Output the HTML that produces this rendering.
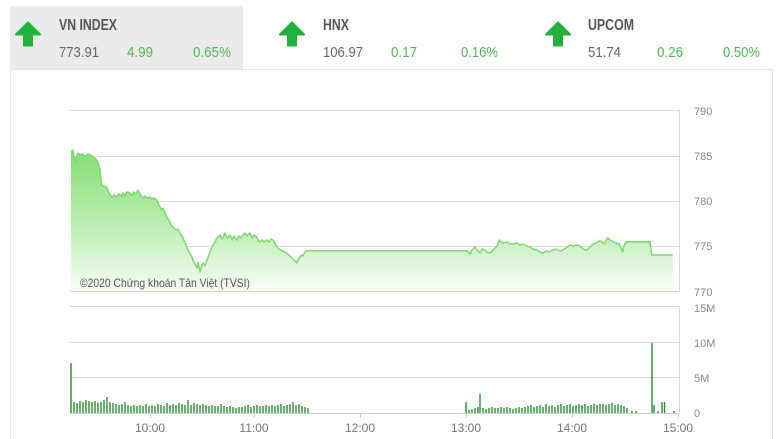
<!DOCTYPE html>
<html><head><meta charset="utf-8"><style>
html,body{margin:0;padding:0;background:#fff;}
svg{display:block;}
text{font-family:"Liberation Sans Narrow","Liberation Sans",sans-serif;}
</style></head><body>
<svg width="780" height="439" viewBox="0 0 780 439" xmlns="http://www.w3.org/2000/svg">
<defs>
<linearGradient id="g" gradientUnits="userSpaceOnUse" x1="0" y1="150" x2="0" y2="292">
<stop offset="0" stop-color="#84de73"/>
<stop offset="0.55" stop-color="#bdefb3"/>
<stop offset="1" stop-color="#f7fdf6"/>
</linearGradient>
</defs>
<rect x="0" y="0" width="780" height="439" fill="#fff"/>
<!-- header -->
<rect x="10" y="6" width="233" height="63" fill="#ebebeb"/>
<g fill="#1fb33b" stroke="#1fb33b" stroke-width="2" stroke-linejoin="round">
<polygon points="28,22.5 40,34.5 32,34.5 32,45.5 24,45.5 24,34.5 16,34.5"/>
<polygon points="292,22.5 304,34.5 296,34.5 296,45.5 288,45.5 288,34.5 280,34.5"/>
<polygon points="558,22.5 570,34.5 562,34.5 562,45.5 554,45.5 554,34.5 546,34.5"/>
</g>
<g font-size="16" font-weight="bold" fill="#555">
<text x="59" y="30" textLength="58" lengthAdjust="spacingAndGlyphs">VN INDEX</text>
<text x="323" y="30" textLength="26" lengthAdjust="spacingAndGlyphs">HNX</text>
<text x="588" y="30" textLength="46" lengthAdjust="spacingAndGlyphs">UPCOM</text>
</g>
<g font-size="15">
<text x="59" y="57" fill="#666" textLength="40" lengthAdjust="spacingAndGlyphs">773.91</text>
<text x="127" y="57" fill="#4cbb4c" textLength="26" lengthAdjust="spacingAndGlyphs">4.99</text>
<text x="193" y="57" fill="#4cbb4c" textLength="38" lengthAdjust="spacingAndGlyphs">0.65%</text>
<text x="323" y="57" fill="#666" textLength="40" lengthAdjust="spacingAndGlyphs">106.97</text>
<text x="391" y="57" fill="#4cbb4c" textLength="26" lengthAdjust="spacingAndGlyphs">0.17</text>
<text x="461" y="57" fill="#4cbb4c" textLength="37" lengthAdjust="spacingAndGlyphs">0.16%</text>
<text x="588" y="57" fill="#666" textLength="33" lengthAdjust="spacingAndGlyphs">51.74</text>
<text x="657" y="57" fill="#4cbb4c" textLength="26" lengthAdjust="spacingAndGlyphs">0.26</text>
<text x="723" y="57" fill="#4cbb4c" textLength="37" lengthAdjust="spacingAndGlyphs">0.50%</text>
</g>
<!-- card border -->
<path d="M10.5 439V69.5H772.5V439" fill="none" stroke="#e6e6e6" stroke-width="1"/>
<!-- price grid -->
<g stroke="#d9d9d9" stroke-width="1" fill="none">
<path d="M70 110.5H679M70 156.5H679M70 201.5H679M70 246.5H679M70 291.5H679M679.5 110V292"/>
<path d="M70 306.5H679M70 342.5H679M70 377.5H679M679.5 306V413"/>
</g>
<!-- price fill & line -->
<path fill="url(#g)" d="M71 291 L71,152 L72.7,150 L74,156 L75,162 L76.5,157 L78,153 L80,155 L82,154 L85,156 L88,154 L91,155 L93,157 L95,158 L97,161 L98,163 L100,170 L101.7,185 L104,186 L106.7,187 L109,193 L111.7,197 L114,195 L116.7,197 L119,194 L121,196 L123,193 L125,196 L127,192 L130,193 L132,196 L134,192 L136,194 L138,190 L140,194 L143,198 L145,196 L147,198 L150,197 L152,199 L154,198 L156.7,200 L159,205 L161.7,210 L163,208 L166.7,217 L169,220 L171,225 L173,227 L176,230 L178,229 L180,233 L183,238 L186.7,247 L189,252 L191,255 L193,260 L195,264 L197,268 L198,262 L200,272 L202,265 L203,263 L205,266 L208,257 L210,252 L213,245 L215,242 L217,238 L220,235 L222,239 L223,238 L225,233 L227,238 L230,235 L232,240 L234,236 L236.7,240 L239,236 L241,238 L243,235 L245,233 L247,236 L250,233 L252,238 L254,235 L256.7,237 L258,240 L260,242 L262,240 L264,242 L266.7,240 L269,242 L271,239 L273,240 L276,245 L278,248 L280,250 L283,251 L286.7,253 L290,256 L293,259 L296.7,262.7 L299,258 L301.7,255 L303,256 L305,252 L306.7,250.7 L466.7,250.7 L470,254 L472,250 L475,246.7 L477,250 L480,253 L482,249 L485,250 L487,252 L490,253 L493,250 L495,248 L497,246 L499.3,240 L501,242 L503,243 L507,242 L510,244 L513,244 L517,243 L520,245 L523,244 L526.7,246 L530,247 L533,249 L536.7,250 L540,252 L543,253 L546,251 L549,252 L553,250 L556,249 L560,251 L563,250 L566,248 L570,245 L573,246 L576.7,245 L580,246 L583,249 L586.7,250 L590,247 L593,244 L596,243 L600,240.7 L602,242 L605,244 L606,240 L608,237.7 L610,240 L613,241.7 L616,243 L619,244 L621,248 L622.7,251.7 L624,246 L626,241.7 L650,241.7 L651.7,255 L672.7,255 L672.7,291 Z"/>
<path fill="none" stroke="#7ed672" stroke-width="1.5" stroke-linejoin="round" d="M71,152 L72.7,150 L74,156 L75,162 L76.5,157 L78,153 L80,155 L82,154 L85,156 L88,154 L91,155 L93,157 L95,158 L97,161 L98,163 L100,170 L101.7,185 L104,186 L106.7,187 L109,193 L111.7,197 L114,195 L116.7,197 L119,194 L121,196 L123,193 L125,196 L127,192 L130,193 L132,196 L134,192 L136,194 L138,190 L140,194 L143,198 L145,196 L147,198 L150,197 L152,199 L154,198 L156.7,200 L159,205 L161.7,210 L163,208 L166.7,217 L169,220 L171,225 L173,227 L176,230 L178,229 L180,233 L183,238 L186.7,247 L189,252 L191,255 L193,260 L195,264 L197,268 L198,262 L200,272 L202,265 L203,263 L205,266 L208,257 L210,252 L213,245 L215,242 L217,238 L220,235 L222,239 L223,238 L225,233 L227,238 L230,235 L232,240 L234,236 L236.7,240 L239,236 L241,238 L243,235 L245,233 L247,236 L250,233 L252,238 L254,235 L256.7,237 L258,240 L260,242 L262,240 L264,242 L266.7,240 L269,242 L271,239 L273,240 L276,245 L278,248 L280,250 L283,251 L286.7,253 L290,256 L293,259 L296.7,262.7 L299,258 L301.7,255 L303,256 L305,252 L306.7,250.7 L466.7,250.7 L470,254 L472,250 L475,246.7 L477,250 L480,253 L482,249 L485,250 L487,252 L490,253 L493,250 L495,248 L497,246 L499.3,240 L501,242 L503,243 L507,242 L510,244 L513,244 L517,243 L520,245 L523,244 L526.7,246 L530,247 L533,249 L536.7,250 L540,252 L543,253 L546,251 L549,252 L553,250 L556,249 L560,251 L563,250 L566,248 L570,245 L573,246 L576.7,245 L580,246 L583,249 L586.7,250 L590,247 L593,244 L596,243 L600,240.7 L602,242 L605,244 L606,240 L608,237.7 L610,240 L613,241.7 L616,243 L619,244 L621,248 L622.7,251.7 L624,246 L626,241.7 L650,241.7 L651.7,255 L672.7,255"/>
<text x="80" y="287" font-size="12" fill="#555" textLength="170" lengthAdjust="spacingAndGlyphs" style="font-family:'Liberation Sans',sans-serif">©2020 Chứng khoán Tân Việt (TVSI)</text>
<!-- y labels -->
<g font-size="11" fill="#888">
<text x="694" y="115">790</text>
<text x="694" y="160">785</text>
<text x="694" y="205">780</text>
<text x="694" y="250">775</text>
<text x="694" y="296">770</text>
<text x="694" y="312">15M</text>
<text x="694" y="347">10M</text>
<text x="694" y="382">5M</text>
<text x="694" y="417">0</text>
</g>
<!-- volume baseline & ticks -->
<path d="M70 413.5H679M150.5 413V418M254.5 413V418M360.5 413V418M466.5 413V418M572.5 413V418M678.5 413V418" stroke="#cfcfcf" stroke-width="1" fill="none"/>
<!-- volume bars -->
<path stroke="#2d8a34" stroke-width="1.4" fill="none" d="M71 413V363M74 413V402M77 413V403M80 413V401M83 413V402M86 413V400M89 413V401M92 413V402M95 413V401M98 413V403M101 413V402M104 413V400M107 413V397M110 413V402M113 413V403M116 413V404M119 413V405M122 413V404M125 413V402M128 413V405M131 413V406M134 413V405M137 413V406M140 413V405M143 413V406M146 413V404M149 413V406M152 413V405M155 413V406M158 413V404M161 413V405M164 413V406M167 413V403M170 413V405M173 413V404M176 413V405M179 413V403M182 413V404M185 413V405M188 413V400M191 413V405M194 413V403M197 413V404M200 413V405M203 413V404M206 413V405M209 413V406M212 413V405M215 413V406M218 413V406M221 413V404M224 413V406M227 413V407M230 413V406M233 413V407M236 413V408M239 413V407M242 413V407M245 413V406M248 413V405M251 413V407M254 413V406M257 413V405M260 413V406M263 413V406M266 413V405M269 413V406M272 413V405M275 413V406M278 413V405M281 413V404M284 413V406M287 413V405M290 413V404M293 413V402M296 413V405M299 413V404M302 413V406M305 413V407M308 413V408
M466 413V402M469 413V410M472 413V409M475 413V408M478 413V407M480 413V394M483 413V408M486 413V409M489 413V408M492 413V407M495 413V408M498 413V408M501 413V407M504 413V408M507 413V407M510 413V408M513 413V409M516 413V408M519 413V407M522 413V408M525 413V407M528 413V406M531 413V405M534 413V407M537 413V406M540 413V405M543 413V407M546 413V404M549 413V406M552 413V405M555 413V407M558 413V405M561 413V404M564 413V406M567 413V405M570 413V404M573 413V406M576 413V405M579 413V404M582 413V405M585 413V404M588 413V406M591 413V405M594 413V404M597 413V405M600 413V404M603 413V404M606 413V405M609 413V404M612 413V403M615 413V405M618 413V404M621 413V405M624 413V406M627 413V408M632 413V411M636 413V411M652 413V343M654 413V405M658 413V411M662 413V402M664.5 413V402M674 413V411"/>
<!-- time labels -->
<g font-size="12" fill="#777" text-anchor="middle" style="font-family:'Liberation Sans',sans-serif">
<text x="150" y="432">10:00</text>
<text x="254" y="432">11:00</text>
<text x="360" y="432">12:00</text>
<text x="466" y="432">13:00</text>
<text x="572" y="432">14:00</text>
<text x="678" y="432">15:00</text>
</g>
</svg>
</body></html>
